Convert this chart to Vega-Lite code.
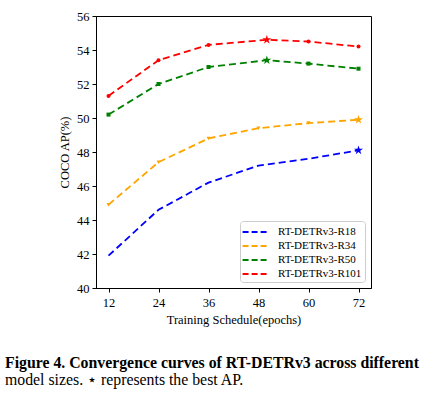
{
  "$schema": "https://vega.github.io/schema/vega-lite/v6.json",
  "autosize": "none",
  "width": 275,
  "height": 272,
  "padding": {"left": 96, "top": 16, "right": 56, "bottom": 110},
  "background": "white",
  "config": {
    "font": "Liberation Serif",
    "view": {"stroke": "black", "strokeWidth": 1},
    "axis": {"labelFont": "Liberation Serif", "titleFont": "Liberation Serif", "labelFontSize": 12.5, "titleFontSize": 12.5, "labelColor": "black", "titleColor": "black", "titleFontWeight": "normal", "domainColor": "black", "tickColor": "black", "tickSize": 4, "grid": false},
    "legend": {"labelFont": "Liberation Serif", "labelFontSize": 11, "labelColor": "black"}
  },
  "title": {
    "text": "Figure 4.  Convergence curves of RT-DETRv3 across different",
    "subtitle": "model sizes.  ⋆ represents the best AP.",
    "orient": "bottom",
    "anchor": "start",
    "frame": "group",
    "dx": -91,
    "offset": 30,
    "font": "Liberation Serif",
    "fontSize": 15.8,
    "fontWeight": "bold",
    "color": "black",
    "subtitleFont": "Liberation Serif",
    "subtitleFontSize": 15.8,
    "subtitleColor": "black",
    "subtitlePadding": 1
  },
  "resolve": {"legend": {"color": "independent", "shape": "independent"}},
  "data": {
    "values": [
      {"model": "RT-DETRv3-R18", "epoch": 12, "ap": 41.9, "best": false},
      {"model": "RT-DETRv3-R18", "epoch": 24, "ap": 44.6, "best": false},
      {"model": "RT-DETRv3-R18", "epoch": 36, "ap": 46.2, "best": false},
      {"model": "RT-DETRv3-R18", "epoch": 48, "ap": 47.2, "best": false},
      {"model": "RT-DETRv3-R18", "epoch": 60, "ap": 47.6, "best": false},
      {"model": "RT-DETRv3-R18", "epoch": 72, "ap": 48.1, "best": true},
      {"model": "RT-DETRv3-R34", "epoch": 12, "ap": 44.9, "best": false},
      {"model": "RT-DETRv3-R34", "epoch": 24, "ap": 47.4, "best": false},
      {"model": "RT-DETRv3-R34", "epoch": 36, "ap": 48.8, "best": false},
      {"model": "RT-DETRv3-R34", "epoch": 48, "ap": 49.4, "best": false},
      {"model": "RT-DETRv3-R34", "epoch": 60, "ap": 49.7, "best": false},
      {"model": "RT-DETRv3-R34", "epoch": 72, "ap": 49.9, "best": true},
      {"model": "RT-DETRv3-R50", "epoch": 12, "ap": 50.2, "best": false},
      {"model": "RT-DETRv3-R50", "epoch": 24, "ap": 52.0, "best": false},
      {"model": "RT-DETRv3-R50", "epoch": 36, "ap": 53.0, "best": false},
      {"model": "RT-DETRv3-R50", "epoch": 50, "ap": 53.4, "best": true},
      {"model": "RT-DETRv3-R50", "epoch": 60, "ap": 53.2, "best": false},
      {"model": "RT-DETRv3-R50", "epoch": 72, "ap": 52.9, "best": false},
      {"model": "RT-DETRv3-R101", "epoch": 12, "ap": 51.3, "best": false},
      {"model": "RT-DETRv3-R101", "epoch": 24, "ap": 53.4, "best": false},
      {"model": "RT-DETRv3-R101", "epoch": 36, "ap": 54.3, "best": false},
      {"model": "RT-DETRv3-R101", "epoch": 50, "ap": 54.6, "best": true},
      {"model": "RT-DETRv3-R101", "epoch": 60, "ap": 54.5, "best": false},
      {"model": "RT-DETRv3-R101", "epoch": 72, "ap": 54.2, "best": false}
    ]
  },
  "encoding": {
    "x": {"field": "epoch", "type": "quantitative", "scale": {"domain": [9, 75], "nice": false, "zero": false},
      "axis": {"values": [12, 24, 36, 48, 60, 72], "title": "Training Schedule(epochs)", "titlePadding": 5, "labelPadding": 4}},
    "y": {"field": "ap", "type": "quantitative", "scale": {"domain": [40, 56], "nice": false, "zero": false},
      "axis": {"values": [40, 42, 44, 46, 48, 50, 52, 54, 56], "title": "COCO AP(%)", "titlePadding": 5, "labelPadding": 3}}
  },
  "layer": [
    {
      "mark": {"type": "line", "strokeDash": [7, 4], "strokeWidth": 1.8},
      "encoding": {
        "color": {"field": "model", "type": "nominal",
          "scale": {"domain": ["RT-DETRv3-R18", "RT-DETRv3-R34", "RT-DETRv3-R50", "RT-DETRv3-R101"], "range": ["#0000ff", "#ffa500", "#008000", "#ff0000"]},
          "legend": {"title": null, "orient": "bottom-right", "offset": 6, "symbolType": "M-2,0L2,0", "symbolDash": [6, 3], "symbolStrokeWidth": 2, "symbolSize": 180, "symbolOffset": 5, "strokeColor": "#cccccc", "cornerRadius": 3, "padding": 3, "rowPadding": 1, "fillColor": "white", "labelOffset": 14}}
      }
    },
    {
      "transform": [{"filter": "datum.best == false && datum.model != 'RT-DETRv3-R18'"}],
      "mark": {"type": "point", "filled": true, "size": 16, "opacity": 1},
      "encoding": {
        "color": {"field": "model", "type": "nominal", "legend": null},
        "shape": {"field": "model", "type": "nominal", "legend": null,
          "scale": {"domain": ["RT-DETRv3-R18", "RT-DETRv3-R34", "RT-DETRv3-R50", "RT-DETRv3-R101"], "range": ["circle", "triangle-down", "square", "circle"]}}
      }
    },
    {
      "transform": [{"filter": "datum.best == true"}],
      "mark": {"type": "point", "shape": "M0,-1L0.2245,-0.309L0.9511,-0.309L0.3633,0.118L0.5878,0.809L0,0.382L-0.5878,0.809L-0.3633,0.118L-0.9511,-0.309L-0.2245,-0.309Z", "filled": true, "size": 90, "opacity": 1},
      "encoding": {
        "color": {"field": "model", "type": "nominal", "legend": null}
      }
    }
  ]
}
